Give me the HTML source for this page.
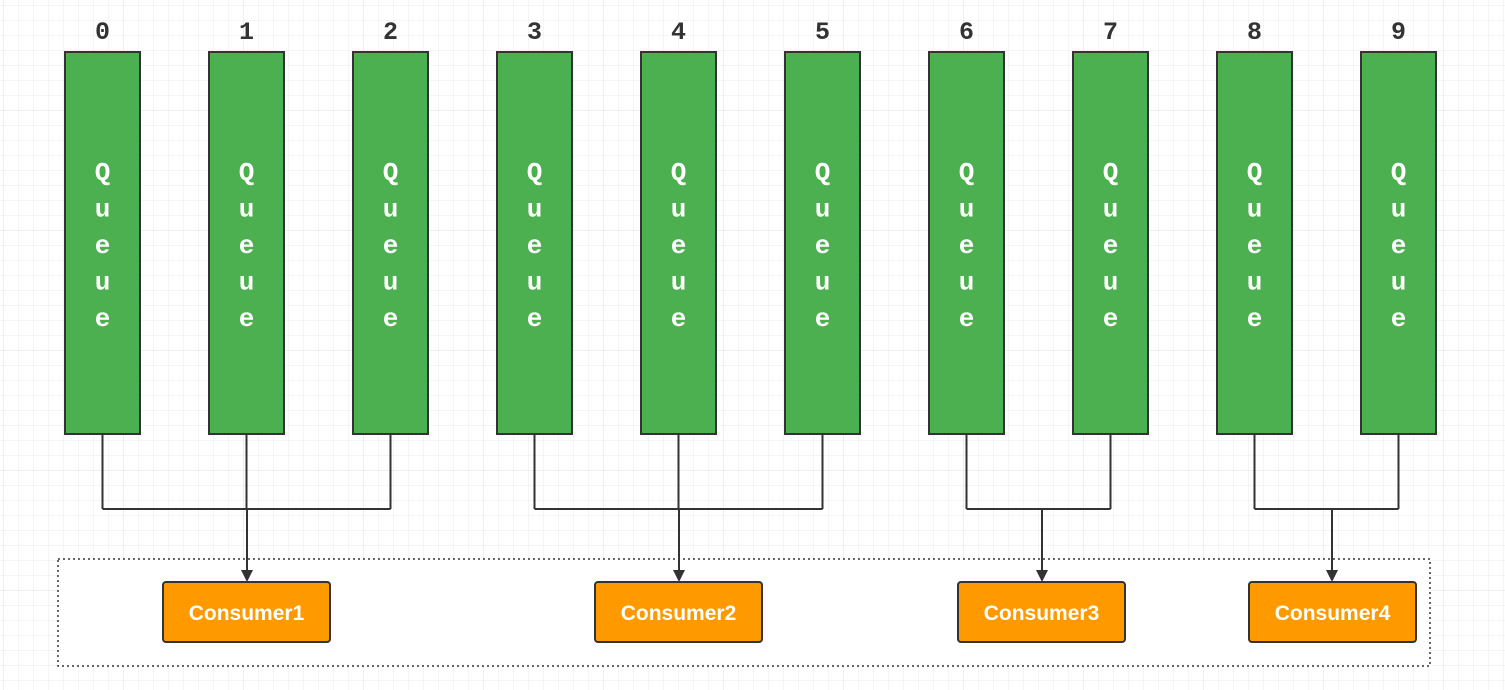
<!DOCTYPE html>
<html><head><meta charset="utf-8"><style>
html,body{margin:0;padding:0;background:#fff;}
svg{display:block;}
</style></head><body>
<svg width="1505" height="690" viewBox="0 0 1505 690" xmlns="http://www.w3.org/2000/svg">
<defs>
<pattern id="minor" x="3" y="5" width="15" height="15" patternUnits="userSpaceOnUse">
<path d="M0 0H15M0 0V15" stroke="#ebebeb" stroke-width="1" fill="none"/>
</pattern>
<pattern id="major" x="3" y="110" width="120" height="120" patternUnits="userSpaceOnUse">
<path d="M0 0H120M0 0V120" stroke="#dedede" stroke-width="1" fill="none"/>
</pattern>
</defs>
<rect width="1505" height="690" fill="url(#minor)"/>
<rect width="1505" height="690" fill="url(#major)"/>
<rect x="58" y="559" width="1372" height="107" fill="#fff" stroke="#333" stroke-width="1.5" stroke-dasharray="2,3"/>
<g id="queues"></g>
<g id="links" fill="none" stroke="#333" stroke-width="2"></g>
<g id="consumers"></g>
</svg>
<script>
const queueIds = [0,1,2,3,4,5,6,7,8,9];
const groups = [[0,1,2],[3,4,5],[6,7],[8,9]];
const consumerNames = ['Consumer1','Consumer2','Consumer3','Consumer4'];
const consumerX = [163,595,958,1249];
const arrowX = [247,679,1042,1332];
const NS='http://www.w3.org/2000/svg';
const qg=document.getElementById('queues');
const lg=document.getElementById('links');
const cg=document.getElementById('consumers');
function mk(tag,attrs,parent){const e=document.createElementNS(NS,tag);for(const k in attrs)e.setAttribute(k,attrs[k]);parent.appendChild(e);return e;}
queueIds.forEach((q,i)=>{
  const x=65+144*i, cx=x+37.5;
  const r=mk('rect',{x:x,y:52,width:75,height:382,fill:'#4caf50',stroke:'#333','stroke-width':2},qg);
  
  
  const t=mk('text',{x:cx,y:39,'text-anchor':'middle','font-family':'Liberation Mono, monospace','font-weight':'bold','font-size':25,fill:'#333'},qg);
  t.textContent=q;
  
  
  const lab=mk('text',{'text-anchor':'middle','font-family':'Liberation Mono, monospace','font-weight':'bold','font-size':26,fill:'#fff'},qg);
  
  
  'Queue'.split('').forEach((ch,j)=>{const s=mk('tspan',{x:cx,y:180+36.5*j},lab);s.textContent=ch;});
});
groups.forEach((g,gi)=>{
  const xs=g.map(q=>65+144*q+37.5);
  let d='';
  xs.forEach(x=>{d+='M'+x+' 434V509';});
  d+='M'+xs[0]+' 509H'+xs[xs.length-1];
  const p=mk('path',{d:d},lg);
  
  
  const a=mk('path',{d:'M'+arrowX[gi]+' 509V572'},lg);
  
  
  const h=mk('path',{d:'M'+(arrowX[gi]-6)+' 570L'+(arrowX[gi]+6)+' 570L'+arrowX[gi]+' 582Z',fill:'#333',stroke:'none'},lg);
  
  
  const r=mk('rect',{x:consumerX[gi],y:582,width:167,height:60,rx:3,fill:'#ff9900',stroke:'#333','stroke-width':2},cg);
  
  
  const t=mk('text',{x:consumerX[gi]+83.5,y:620,'text-anchor':'middle','font-family':'Comic Sans MS, Liberation Sans, sans-serif','font-weight':'bold','font-size':21,fill:'#fff'},cg);
  t.textContent=consumerNames[gi];
  
  
});
</script>
</body></html>
